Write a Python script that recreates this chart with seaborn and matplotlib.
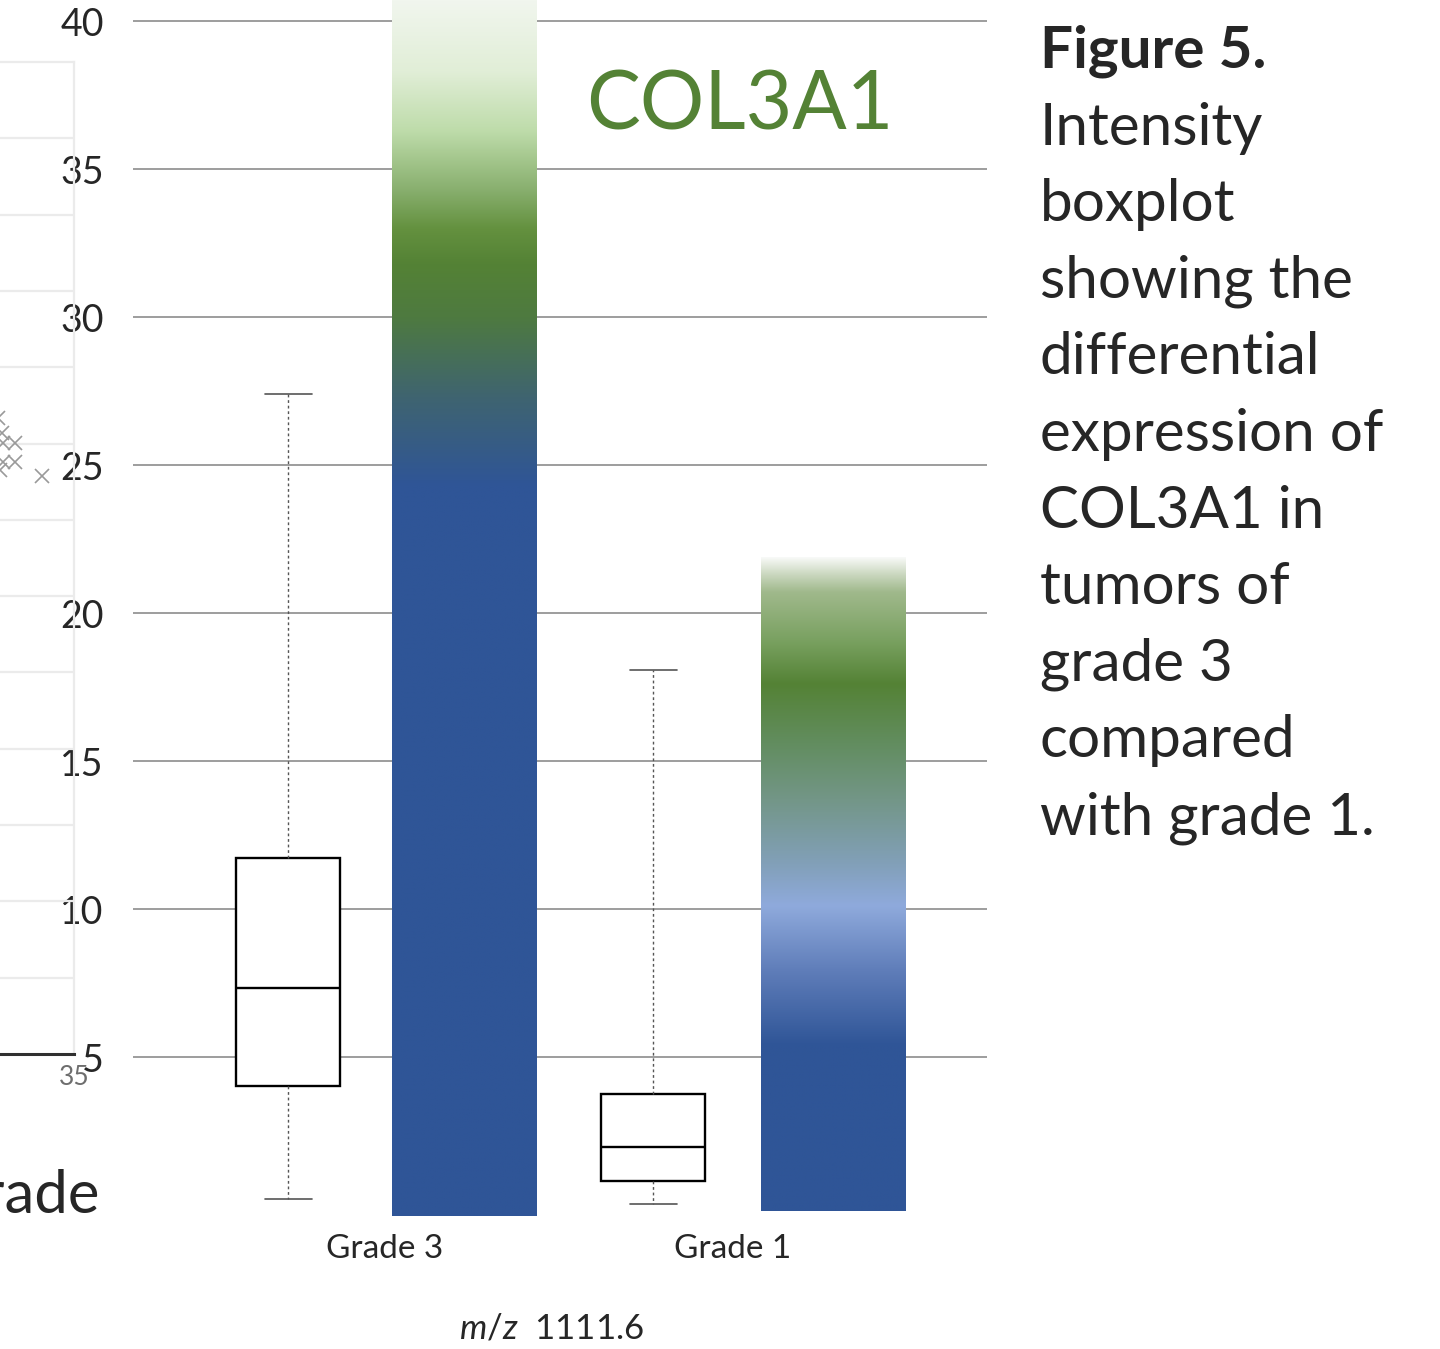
import numpy as np
import pandas as pd
import matplotlib
matplotlib.use("Agg")
import matplotlib.pyplot as plt
import seaborn as sns

sns.set_style("white")
plt.rcParams["font.family"] = ["Lato", "DejaVu Sans"]
plt.rcParams["mathtext.fontset"] = "custom"
plt.rcParams["mathtext.it"] = "Lato:italic"
plt.rcParams["mathtext.rm"] = "Lato"

# ---- data -------------------------------------------------------------
grades = ["Grade 3", "Grade 1"]

# five-number summaries of the intensity at m/z 1111.6
whisker_lo = [0.20, 0.03]
q1 = [4.02, 0.82]
median = [7.33, 1.97]
q3 = [11.72, 3.75]
whisker_hi = [27.40, 18.07]

# colour-coded intensity bars
bar_base = [-0.37, -0.2]
bar_top = [41.0, 21.9]

# colour ramps along each bar: (intensity, colour)
ramp_g3_values = [-0.37, 24.3, 27.3, 30.0, 31.8, 33.0, 34.3, 36.3, 38.3, 41.0]
ramp_g3_colors = ["#2f5597", "#2f5597", "#3f6470", "#4e7a40", "#548235",
                  "#64913f", "#88af6e", "#bedcaa", "#e1eed7", "#f3f7f1"]
ramp_g1_values = [-0.2, 5.4, 7.9, 10.1, 11.5, 13.7, 15.6, 17.6, 19.0, 20.7, 21.3, 21.9]
ramp_g1_colors = ["#2f5597", "#2f5597", "#5f7db9", "#8faadc", "#82a0b9",
                  "#739687", "#628d5f", "#548235", "#78a05f", "#a0b98c",
                  "#cbd8c0", "#fbfcfb"]

y_ticks = [5, 10, 15, 20, 25, 30, 35, 40]

# neighbouring panel (cropped at the left edge)
side_x = [28.35, 28.7, 28.8, 29.84, 28.8, 29.84, 28.5, 32.2]
side_y = [8.34, 8.14, 8.01, 8.01, 7.76, 7.76, 7.65, 7.58]
side_grid = list(range(1, 13))
side_tick = [35]

# ---- layout -----------------------------------------------------------
W, H = 1440, 1349
fig = plt.figure(figsize=(W / 100, H / 100), dpi=100)

ax_l, ax_r, ax_t, ax_b = 133, 987, 0, 1216
ax = fig.add_axes([ax_l / W, (H - ax_b) / H, (ax_r - ax_l) / W, (ax_b - ax_t) / H])

px_per_cat = 348.0
box_offset = [-97 / px_per_cat, -80 / px_per_cat]
bar_offset = [79.5 / px_per_cat, 100.5 / px_per_cat]
box_pos = [i + o for i, o in enumerate(box_offset)]
bar_pos = [i + o for i, o in enumerate(bar_offset)]
bar_width = 145 / px_per_cat

# bars (outline only, filled with gradients below)
df = pd.DataFrame({"pos": bar_pos,
                   "height": np.array(bar_top) - np.array(bar_base),
                   "grade": grades})
native_unit = np.min(np.diff(sorted(bar_pos)))
sns.barplot(data=df, x="pos", y="height", native_scale=True,
            width=bar_width / native_unit, errorbar=None, color="white",
            bottom=bar_base, facecolor="none", edgecolor="none",
            linewidth=0, ax=ax)

ramps = [(ramp_g3_values, ramp_g3_colors), (ramp_g1_values, ramp_g1_colors)]
patches = sorted(ax.patches, key=lambda p: p.get_x())
for i, patch in enumerate(patches):
    vals, cols = ramps[i]
    rgb = np.array([matplotlib.colors.to_rgb(c) for c in cols])
    yy = np.linspace(bar_base[i], bar_top[i], 800)
    img = np.stack([np.interp(yy, vals, rgb[:, k]) for k in range(3)], axis=-1)[:, None, :]
    x0, w = patch.get_x(), patch.get_width()
    im = ax.imshow(img, extent=[x0, x0 + w, bar_base[i], bar_top[i]],
                   origin="lower", aspect="auto", interpolation="bilinear", zorder=2)
    im.set_clip_path(patch)

# boxplots from the summaries
stats = [dict(med=median[i], q1=q1[i], q3=q3[i], whislo=whisker_lo[i],
              whishi=whisker_hi[i], fliers=[], label=grades[i]) for i in range(2)]
ax.bxp(stats, positions=box_pos, widths=104 / px_per_cat,
       capwidths=47 / px_per_cat, showfliers=False, patch_artist=True,
       manage_ticks=False, zorder=3,
       boxprops=dict(facecolor="white", edgecolor="black", linewidth=1.7),
       medianprops=dict(color="black", linewidth=1.7),
       whiskerprops=dict(color="#555555", linewidth=1.0, linestyle=(0, (2, 2))),
       capprops=dict(color="#555555", linewidth=1.2))

ax.set_xlim((ax_l - 385) / px_per_cat, (ax_r - 385) / px_per_cat)
ax.set_ylim(-0.37, 40.71)
ax.set_yticks(y_ticks)
ax.set_yticklabels([str(t) for t in y_ticks], fontsize=27)
ax.set_xticks([0, 1])
ax.set_xticklabels(grades, fontsize=24)
ax.tick_params(axis="both", length=0)
ax.tick_params(axis="y", pad=21)
ax.tick_params(axis="x", pad=13)
ax.yaxis.grid(True, color="#8c8c8c", linewidth=1.2)
ax.xaxis.grid(False)
ax.set_axisbelow(True)
for s in ax.spines.values():
    s.set_visible(False)
ax.set_ylabel("")
ax.set_xlabel(r"$\it{m/z}$  1111.6", fontsize=25)
ax.xaxis.set_label_coords((552 - ax_l) / (ax_r - ax_l), (ax_b - 1328) / (ax_b - ax_t))
ax.xaxis.label.set_va("center")

ax.text((740 - ax_l) / (ax_r - ax_l), 1 - 129 / (ax_b - ax_t), "COL3A1",
        transform=ax.transAxes, ha="center", va="baseline",
        fontsize=58, color="#548235")

# neighbouring panel, cut off by the figure edge
sl, sr, st, sb = -326, 74, 62, 1054
sax = fig.add_axes([sl / W, (H - sb) / H, (sr - sl) / W, (sb - st) / H])
sax.set_xlim(0, 35)
sax.set_ylim(0, 13)
for g in side_grid:
    sax.axhline(g, color="#ebebeb", linewidth=1.6, zorder=0)
sax.plot(side_x, side_y, linestyle="none", marker="x", markersize=10.5,
         markeredgewidth=1.2, color="#9a9a9a", clip_on=False)
sax.set_yticks([])
sax.set_xticks(side_tick)
sax.set_xticklabels([str(t) for t in side_tick], fontsize=19, color="#6e6e6e")
sax.tick_params(axis="x", length=0, pad=8)
sax.spines["left"].set_visible(False)
sax.spines["top"].set_color("#ebebeb")
sax.spines["top"].set_linewidth(1.6)
sax.spines["right"].set_color("#ebebeb")
sax.spines["right"].set_linewidth(1.6)
sax.spines["bottom"].set_color("#303030")
sax.spines["bottom"].set_linewidth(2.2)
sax.patch.set_alpha(0)
fig.text(100 / W, 1 - 1213 / H, "Grade", ha="right", va="baseline", fontsize=43)

# caption
caption = ["Intensity", "boxplot", "showing the", "differential",
           "expression of", "COL3A1 in", "tumors of", "grade 3",
           "compared", "with grade 1."]
fig.text(1040 / W, 1 - 68 / H, "Figure 5.", ha="left", va="baseline",
         fontsize=42, fontweight="bold")
for k, line in enumerate(caption, start=1):
    fig.text(1040 / W, 1 - (68 + 76.6 * k) / H, line, ha="left",
             va="baseline", fontsize=42)

fig.savefig("out.png", dpi=100)
